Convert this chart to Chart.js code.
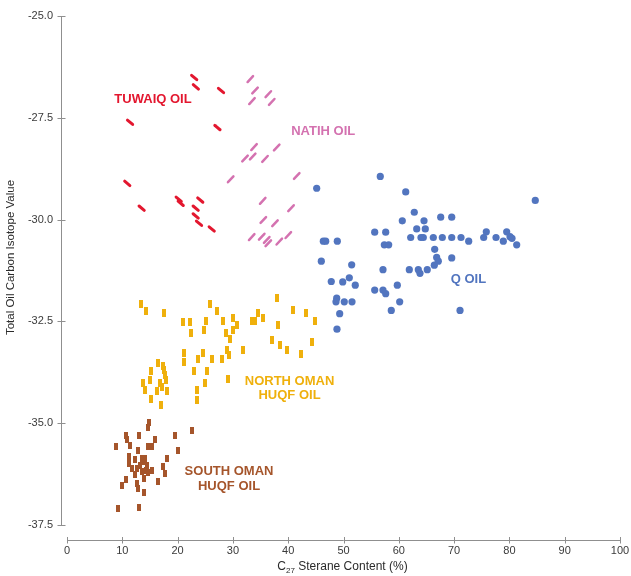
<!DOCTYPE html>
<html>
<head>
<meta charset="utf-8">
<title>Oil families: C27 sterane vs carbon isotopes</title>
<script src="https://cdn.jsdelivr.net/npm/chart.js@4.4.1/dist/chart.umd.min.js"></script>
<style>
  html, body { margin: 0; padding: 0; background: #ffffff; }
  canvas { display: block; }
</style>
</head>
<body>
<canvas id="chart" width="631" height="576"></canvas>
<script>
// Axis ticks
const xTickValues = [0, 10, 20, 30, 40, 50, 60, 70, 80, 90, 100];
const yTickValues = [-25, -27.5, -30, -32.5, -35, -37.5];

// Each sample: [C27 sterane content (%), total oil carbon isotope value]
const tuwaiqOil = [
  [23.0, -26.51], [23.3, -26.74], [27.85, -26.83], [11.4, -27.61], [27.2, -27.74],
  [10.9, -29.11], [13.5, -29.72], [20.2, -29.50], [20.56, -29.60], [24.1, -29.52],
  [23.27, -29.72], [23.27, -29.91], [23.87, -30.09], [26.17, -30.23]
];

const natihOil = [
  [33.15, -26.55], [34.0, -26.83], [33.45, -27.09], [36.4, -26.92], [37.02, -27.11],
  [33.82, -28.22], [37.92, -28.23], [32.19, -28.50], [33.58, -28.45], [35.8, -28.51],
  [29.6, -29.01], [41.54, -28.93], [35.39, -29.54], [40.51, -29.72], [35.5, -30.01],
  [37.61, -30.09], [33.4, -30.43], [35.21, -30.42], [36.11, -30.50], [36.4, -30.58],
  [38.39, -30.54], [40.02, -30.38]
];

const qOil = [
  [56.65, -28.94], [45.15, -29.23], [61.25, -29.32], [84.68, -29.53], [62.8, -29.82],
  [60.63, -30.03], [64.56, -30.03], [67.58, -29.94], [69.57, -29.94], [63.24, -30.23],
  [64.79, -30.23], [55.64, -30.31], [57.63, -30.31], [75.82, -30.30], [79.51, -30.30],
  [62.15, -30.44], [64.01, -30.44], [64.43, -30.44], [66.24, -30.44], [67.87, -30.44],
  [69.57, -30.44], [71.25, -30.44], [72.64, -30.53], [75.35, -30.44], [77.58, -30.44],
  [78.9, -30.53], [80.11, -30.42], [80.47, -30.46], [81.32, -30.62], [46.35, -30.53],
  [46.78, -30.53], [48.88, -30.53], [57.38, -30.62], [58.17, -30.62], [66.49, -30.73],
  [66.85, -30.93], [67.14, -31.02], [66.42, -31.12], [69.57, -30.94], [45.99, -31.02],
  [51.48, -31.11], [57.14, -31.23], [61.9, -31.23], [63.53, -31.23], [63.83, -31.32],
  [65.15, -31.23], [51.05, -31.43], [49.86, -31.53], [47.79, -31.52], [52.13, -31.61],
  [59.73, -31.61], [55.64, -31.73], [57.14, -31.73], [57.63, -31.82], [48.77, -31.93],
  [48.64, -32.02], [50.14, -32.02], [51.54, -32.02], [60.16, -32.02], [49.31, -32.31],
  [58.64, -32.23], [71.07, -32.23], [48.82, -32.69]
];

const northOmanHuqf = [
  [13.44, -32.08], [14.23, -32.24], [17.54, -32.30], [25.86, -32.07], [27.12, -32.24],
  [38.03, -31.92], [40.81, -32.21], [43.22, -32.30], [44.79, -32.50], [21.03, -32.51],
  [22.24, -32.51], [25.14, -32.50], [24.77, -32.71], [22.37, -32.79], [28.26, -32.50],
  [30.07, -32.42], [30.8, -32.58], [29.96, -32.71], [28.75, -32.79], [29.48, -32.94],
  [33.4, -32.50], [34.0, -32.50], [34.59, -32.30], [35.5, -32.42], [38.21, -32.59],
  [37.02, -32.96], [38.52, -33.09], [39.73, -33.20], [42.37, -33.30], [44.3, -33.01],
  [21.21, -33.28], [21.21, -33.50], [23.69, -33.42], [24.54, -33.27], [26.22, -33.42],
  [28.03, -33.42], [28.88, -33.20], [29.24, -33.33], [31.77, -33.20], [23.02, -33.71],
  [25.37, -33.71], [25.01, -34.01], [23.45, -34.18], [23.45, -34.43], [29.11, -33.92],
  [16.4, -33.51], [17.31, -33.60], [17.54, -33.69], [15.14, -33.71], [17.72, -33.82],
  [15.01, -33.94], [13.69, -34.01], [17.9, -33.94], [16.82, -34.02], [17.12, -34.10],
  [14.1, -34.18], [16.33, -34.20], [18.14, -34.20], [15.19, -34.41], [16.94, -34.55]
];

const southOmanHuqf = [
  [14.88, -34.98], [14.7, -35.11], [10.61, -35.29], [10.8, -35.41], [13.02, -35.29],
  [15.91, -35.39], [19.53, -35.31], [22.66, -35.19], [8.86, -35.58], [11.39, -35.55],
  [14.7, -35.58], [15.32, -35.58], [20.02, -35.68], [12.89, -35.68], [11.21, -35.82],
  [11.21, -35.98], [12.3, -35.90], [13.51, -35.86], [14.1, -35.86], [18.03, -35.86],
  [11.7, -36.11], [12.6, -36.11], [13.2, -36.03], [14.41, -36.03], [15.32, -36.15],
  [13.51, -36.19], [14.7, -36.21], [12.3, -36.27], [13.98, -36.35], [17.41, -36.07],
  [17.72, -36.23], [16.51, -36.42], [10.61, -36.39], [10.0, -36.52], [12.6, -36.48],
  [12.89, -36.60], [13.98, -36.70], [9.28, -37.09], [13.02, -37.08], [13.74, -35.95],
  [14.29, -36.15]
];

// Family names placed beside their clusters (anchor in data units)
const familyLabels = [
  { lines: ['TUWAIQ OIL'], x: 15.55, y: -27.06, color: '#e3172f' },
  { lines: ['NATIH OIL'], x: 46.33, y: -27.84, color: '#d472b0' },
  { lines: ['Q OIL'], x: 72.6, y: -31.48, color: '#5275bf' },
  { lines: ['NORTH OMAN', 'HUQF OIL'], x: 40.24, y: -34.155, color: '#efb00c' },
  { lines: ['SOUTH OMAN', 'HUQF OIL'], x: 29.3, y: -36.37, color: '#a5552b' }
];

const toXY = arr => arr.map(([x, y]) => ({ x, y }));

// Small filled bars used as point markers for the Huqf oils
function barMarker(w, h, color) {
  const c = document.createElement('canvas');
  c.width = w; c.height = h;
  const g = c.getContext('2d');
  g.fillStyle = color;
  g.fillRect(0, 0, w, h);
  return c;
}

const FONT = "'Liberation Sans', Arial, Helvetica, sans-serif";
Chart.defaults.font.family = FONT;

// Axis lines with ticks that cross them; the x axis sits a little below the plot
const axisPlugin = {
  id: 'offsetAxes',
  afterDraw(chart) {
    const { ctx, chartArea, scales: { x, y } } = chart;
    ctx.save();
    ctx.strokeStyle = '#8f8f8f';
    ctx.lineWidth = 1;
    ctx.beginPath();
    const yx = Math.round(chartArea.left - 6) + 0.5;
    ctx.moveTo(yx, y.getPixelForValue(y.max));
    ctx.lineTo(yx, y.getPixelForValue(y.min));
    y.ticks.forEach(t => {
      const py = Math.round(y.getPixelForValue(t.value)) + 0.5;
      ctx.moveTo(yx - 4, py);
      ctx.lineTo(yx + 4, py);
    });
    const xy = Math.round(chartArea.bottom + 15) + 0.5;
    ctx.moveTo(x.getPixelForValue(x.min), xy);
    ctx.lineTo(x.getPixelForValue(x.max), xy);
    x.ticks.forEach(t => {
      const px = Math.round(x.getPixelForValue(t.value)) + 0.5;
      ctx.moveTo(px, xy - 3.5);
      ctx.lineTo(px, xy + 3);
    });
    ctx.stroke();

    // Axis titles
    ctx.fillStyle = '#2b2b2b';
    ctx.textBaseline = 'middle';
    const cx = (chartArea.left + chartArea.right) / 2 - 1;
    const ty = chartArea.bottom + 42;
    const mainFont = '12px ' + FONT;
    const subFont = '8px ' + FONT;
    ctx.font = mainFont;
    const wC = ctx.measureText('C').width;
    const wRest = ctx.measureText(' Sterane Content (%)').width;
    ctx.font = subFont;
    const wSub = ctx.measureText('27').width;
    let sx = cx - (wC + wSub + wRest) / 2;
    ctx.textAlign = 'left';
    ctx.font = mainFont;
    ctx.fillText('C', sx, ty);
    sx += wC;
    ctx.font = subFont;
    ctx.fillText('27', sx, ty + 3.5);
    sx += wSub;
    ctx.font = mainFont;
    ctx.fillText(' Sterane Content (%)', sx, ty);

    ctx.save();
    ctx.translate(11, (chartArea.top + chartArea.bottom) / 2 - 13);
    ctx.rotate(-Math.PI / 2);
    ctx.textAlign = 'center';
    ctx.font = '11.5px ' + FONT;
    ctx.fillText('Total Oil Carbon Isotope Value', 0, 0);
    ctx.restore();
    ctx.restore();
  }
};

// Rounded dash ends for the line markers, plus the family names
const markerPlugin = {
  id: 'familyMarks',
  beforeDatasetsDraw(chart) {
    chart.ctx.save();
    chart.ctx.lineCap = 'round';
  },
  afterDatasetsDraw(chart) {
    const { ctx, scales: { x, y } } = chart;
    ctx.restore();
    ctx.save();
    ctx.font = 'bold 13px ' + FONT;
    ctx.textAlign = 'center';
    ctx.textBaseline = 'middle';
    familyLabels.forEach(lab => {
      const px = x.getPixelForValue(lab.x);
      const py = y.getPixelForValue(lab.y);
      const lh = 14.2;
      const top = py - (lab.lines.length - 1) * lh / 2;
      ctx.fillStyle = lab.color;
      lab.lines.forEach((line, i) => ctx.fillText(line, px, top + i * lh));
    });
    ctx.restore();
  }
};

new Chart(document.getElementById('chart'), {
  type: 'scatter',
  data: {
    datasets: [
      {
        label: 'Tuwaiq oil',
        data: toXY(tuwaiqOil),
        pointStyle: 'line',
        rotation: 40,
        radius: 3.4,
        borderWidth: 3,
        borderColor: '#e3172f',
        backgroundColor: '#e3172f'
      },
      {
        label: 'Natih oil',
        data: toXY(natihOil),
        pointStyle: 'line',
        rotation: -47,
        radius: 4,
        borderWidth: 2.5,
        borderColor: '#d472b0',
        backgroundColor: '#d472b0'
      },
      {
        label: 'Q oil',
        data: toXY(qOil),
        pointStyle: 'circle',
        radius: 3.6,
        borderWidth: 0,
        backgroundColor: '#5275bf'
      },
      {
        label: 'North Oman Huqf oil',
        data: toXY(northOmanHuqf),
        pointStyle: barMarker(4, 8, '#efb00c'),
        radius: 4
      },
      {
        label: 'South Oman Huqf oil',
        data: toXY(southOmanHuqf),
        pointStyle: barMarker(4, 7, '#a5552b'),
        radius: 4
      }
    ]
  },
  options: {
    responsive: false,
    animation: false,
    events: [],
    layout: { padding: { top: 16, right: 11, bottom: 0, left: 0 } },
    plugins: {
      legend: { display: false },
      tooltip: { enabled: false }
    },
    scales: {
      x: {
        type: 'linear',
        min: 0,
        max: 100,
        afterFit: s => { s.height = 51; },
        afterBuildTicks: s => { s.ticks = xTickValues.map(v => ({ value: v })); },
        // tick marks are drawn by the plugin; tickLength only spaces the labels
        grid: { display: false, drawTicks: true, tickLength: 19 },
        border: { display: false },
        ticks: {
          padding: 0,
          color: '#3a3a3a',
          font: { size: 11 },
          callback: v => String(v)
        }
      },
      y: {
        type: 'linear',
        min: -37.5,
        max: -25,
        afterFit: s => { s.width = 67; },
        afterBuildTicks: s => { s.ticks = yTickValues.map(v => ({ value: v })); },
        grid: { display: false, drawTicks: true, tickLength: 14 },
        border: { display: false },
        ticks: {
          padding: 0,
          color: '#3a3a3a',
          font: { size: 11 },
          callback: v => Number(v).toFixed(1)
        }
      }
    }
  },
  plugins: [axisPlugin, markerPlugin]
});
</script>
</body>
</html>
